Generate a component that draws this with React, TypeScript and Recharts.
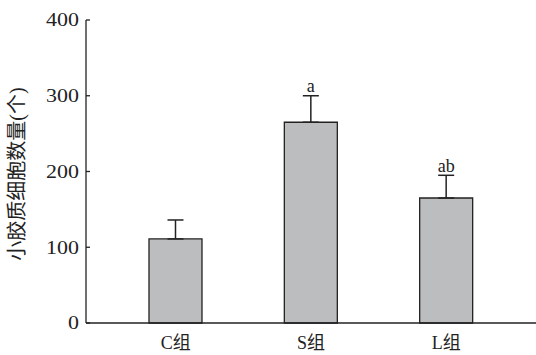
import React from "react";
import { Bar, BarChart, ErrorBar, LabelList, XAxis, YAxis, Label } from "recharts";

const categories = ["C组", "S组", "L组"];
const means = [111, 265, 165];
const errors = [25, 35, 30];
const marks = ["", "a", "ab"];
const yTicks = [0, 100, 200, 300, 400];

const FONT = "'Liberation Serif', 'Noto Sans CJK SC', serif";
const INK = "#222";

const data = categories.map((name, i) => ({
  name,
  value: means[i],
  err: [0, errors[i]],
  mark: marks[i],
}));

// y ticks: short tick mark pointing into the plot, slightly wide digits
const YTick = (props: any) => {
  const { x, y, payload } = props;
  return (
    <g>
      <line x1={x + 6} x2={x + 10} y1={y} y2={y} stroke={INK} strokeWidth={1.3} />
      <text
        transform={`translate(${x - 1},${y}) scale(1.22,1)`}
        dy="0.355em"
        textAnchor="end"
        fontFamily={FONT}
        fontSize={18}
        fill={INK}
      >
        {payload.value}
      </text>
    </g>
  );
};

const XTick = (props: any) => {
  const { x, y, payload } = props;
  return (
    <text x={x} y={y + 26} textAnchor="middle" fontFamily={FONT} fontSize={18} fill={INK}>
      {payload.value}
    </text>
  );
};

const MarkLabel = (props: any) => {
  const { x, y, width, height, index } = props;
  const mark = marks[index];
  if (!mark) return null;
  const perUnit = height / means[index];
  const errTop = y - errors[index] * perUnit;
  return (
    <text x={x + width / 2} y={errTop - 3.5} textAnchor="middle" fontFamily={FONT} fontSize={18} fill={INK}>
      {mark}
    </text>
  );
};

export default function App() {
  return (
    <div style={{ position: "absolute", left: 0, top: 0, background: "#fff" }}>
      <BarChart width={536} height={355} data={data} margin={{ top: 20, right: 0, bottom: 0, left: 0 }}>
        <XAxis
          dataKey="name"
          height={32}
          padding={{ left: 22, right: 22 }}
          tickLine={false}
          tickSize={0}
          tickMargin={0}
          axisLine={{ stroke: INK, strokeWidth: 1.3 }}
          tick={<XTick />}
        />
        <YAxis
          width={86}
          domain={[0, 400]}
          ticks={yTicks}
          tickLine={false}
          tickSize={0}
          tickMargin={6}
          interval={0}
          axisLine={{ stroke: INK, strokeWidth: 1.3 }}
          tick={<YTick />}
        >
          <Label
            content={() => (
              <text
                x={17}
                y={174}
                transform="rotate(-90 17 174)"
                textAnchor="middle"
                dominantBaseline="central"
                fontFamily={FONT}
                fontSize={20}
                fill={INK}
              >
                小胶质细胞数量(个)
              </text>
            )}
          />
        </YAxis>
        <Bar dataKey="value" barSize={53} fill="#bcbdbf" stroke={INK} strokeWidth={1.3} isAnimationActive={false}>
          <ErrorBar dataKey="err" width={8} stroke={INK} strokeWidth={1.5} isAnimationActive={false} />
          <LabelList dataKey="mark" content={<MarkLabel />} />
        </Bar>
      </BarChart>
    </div>
  );
}
